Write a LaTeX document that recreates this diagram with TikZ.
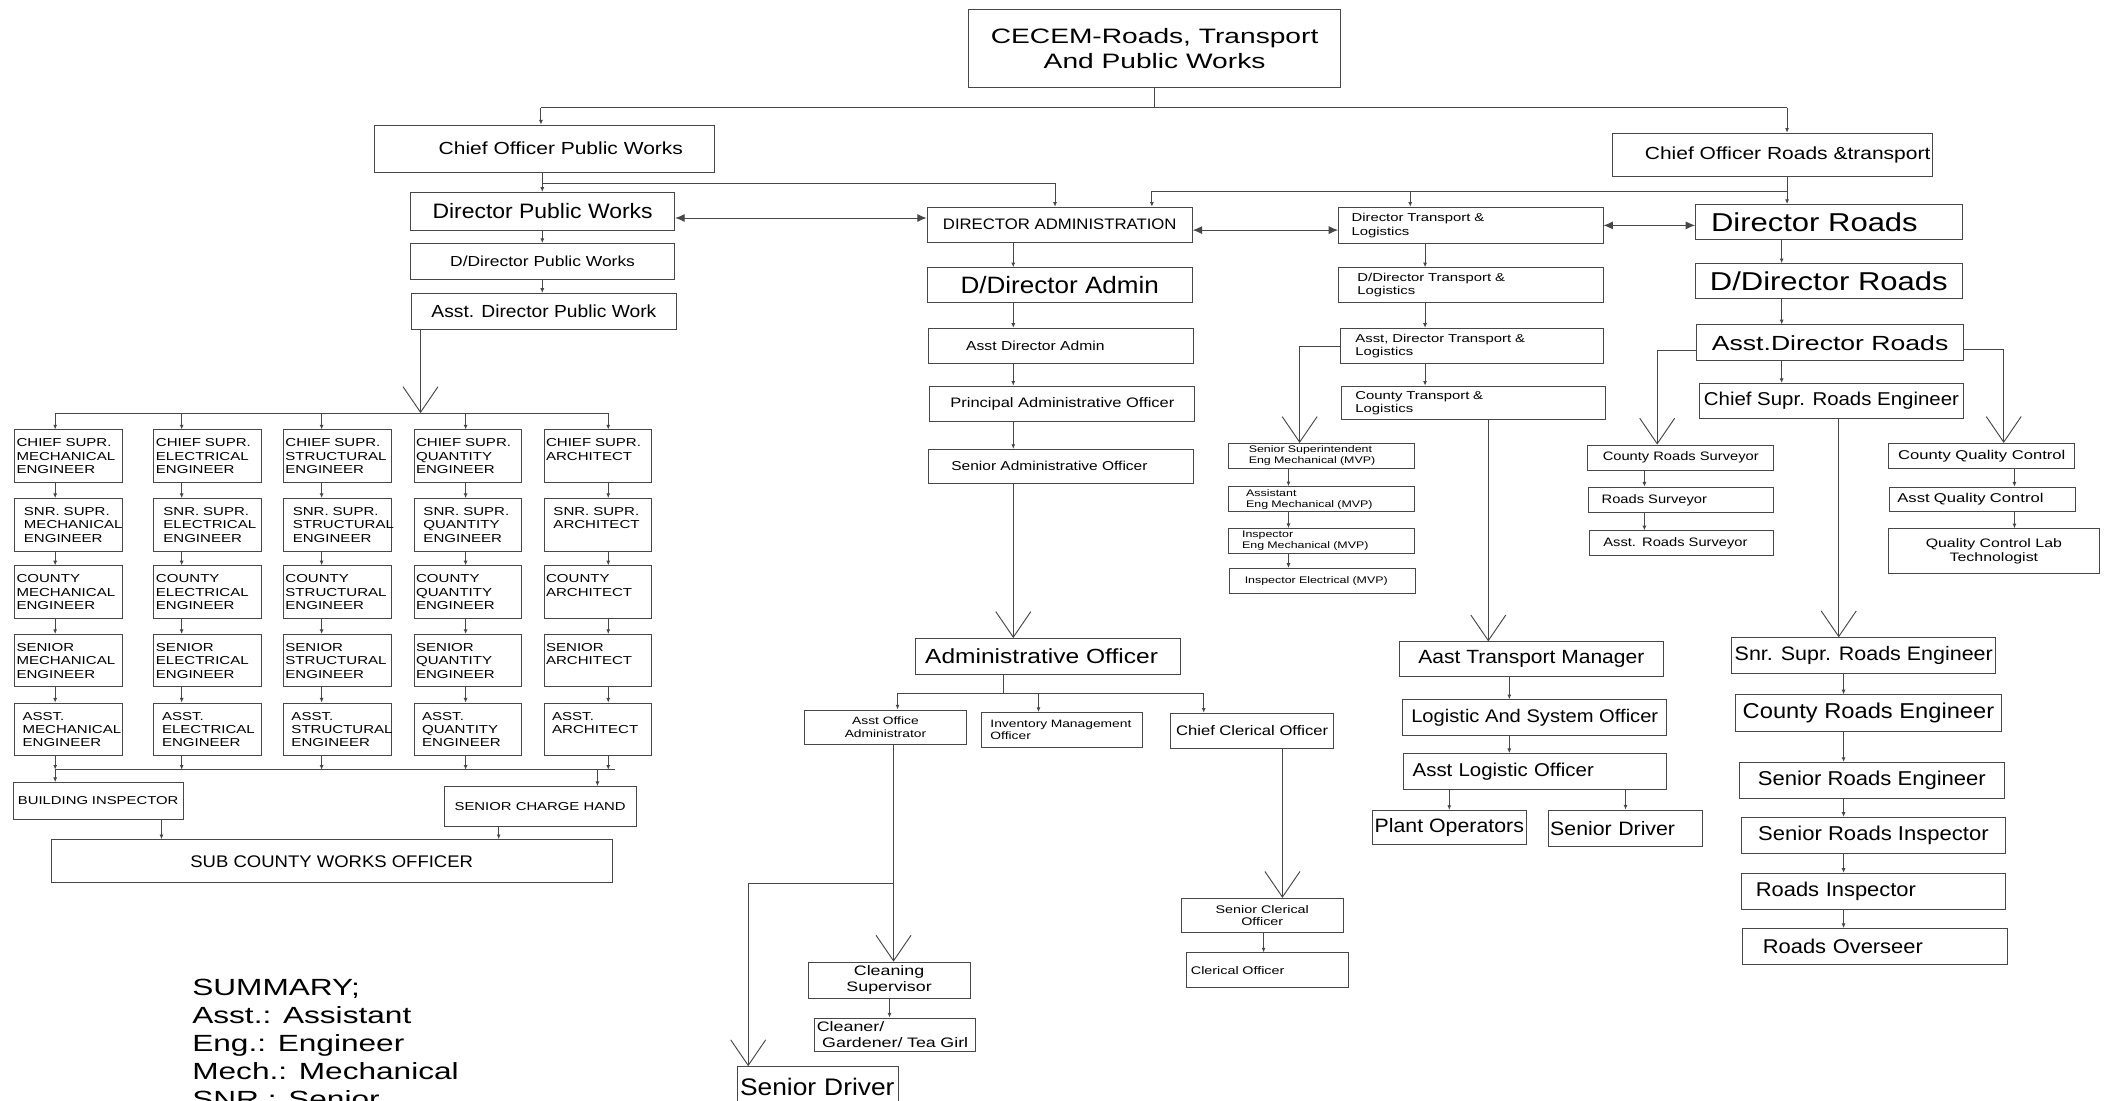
\documentclass[tikz,border=0pt]{standalone}
\usepackage{fontspec}
\setmainfont{Liberation Sans}
\newfontfamily\fontN{Liberation Sans}[FakeStretch=1.1]
\newfontfamily\fontM{Liberation Sans}[FakeStretch=1.2]
\newfontfamily\fontW{Liberation Sans}[FakeStretch=1.3]
\newfontfamily\fontX{Liberation Sans}[FakeStretch=1.35]
\usetikzlibrary{arrows.meta,positioning,calc}
\hyphenpenalty=10000
\exhyphenpenalty=10000

\tikzset{
  post/.style={draw=black!72, line width=0.7pt, fill=white, inner sep=0pt, align=center},
  lpost/.style 2 args={post, align=left, text width=#1, inner xsep=#2},
  wh/.style 2 args={minimum width=#1, minimum height=#2},
  fN/.style 2 args={font=\fontN\fontsize{#1}{#2}\selectfont},
  fM/.style 2 args={font=\fontM\fontsize{#1}{#2}\selectfont},
  fW/.style 2 args={font=\fontW\fontsize{#1}{#2}\selectfont},
  fX/.style 2 args={font=\fontX\fontsize{#1}{#2}\selectfont},
  eng/.style={post, align=left, wh={80pt}{39pt}, fW={8.6}{9.9}},
  link/.style={draw=black!72, line width=0.7pt},
  tip/.style={link, -{Latex[length=3.5pt,width=3pt]}},
  vee/.style={link, -{Straight Barb[length=19pt,width=26pt]}},
  dbl/.style={link, {Latex[length=7pt,width=6pt]}-{Latex[length=7pt,width=6pt]}},
}

\begin{document}
\begin{tikzpicture}[x=1pt,y=-1pt]
\useasboundingbox (0,0) rectangle (1568,818);
\clip (0,0) rectangle (1568,818);
\fill[white] (0,0) rectangle (1568,818);

% top level
\node[post, wh={276pt}{58pt}, fX={15.5}{18}] (cecem) at (858,36) {CECEM-Roads, Transport\\And Public Works};
\node[post, align=right, text width=206pt, inner xsep=23.5pt, wh={253pt}{35pt}, fM={13}{13}] (copw) at (404.5,110.5) {Chief Officer Public Works};
\node[post, align=right, text width=235pt, inner xsep=1.5pt, wh={238pt}{32pt}, fM={13}{13}] (cort) at (1317,115) {Chief Officer Roads \&transport};

% public works
\node[post, wh={196.5pt}{28pt}, fN={15.5}{15.5}] (dpw) at (403.2,157) {Director Public Works};
\node[post, wh={196.5pt}{26.6pt}, fM={10.8}{10.8}] (ddpw) at (403.2,194.3) {D/Director Public Works};
\node[post, wh={196.5pt}{27pt}, fN={13}{13}] (adpw) at (404.2,231.5) {Asst. Director Public Work};

\foreach \row/\rank/\ry/\pad in {1/{CHIEF SUPR.}/339/1.5, 2/{SNR. SUPR.}/390/7, 3/COUNTY/440/1.5, 4/SENIOR/491/1.5, 5/ASST./542/6}
  \foreach \col/\disc/\cx in {1/{MECHANICAL\\ENGINEER}/50.8, 2/{ELECTRICAL\\ENGINEER}/154.4, 3/{STRUCTURAL\\ENGINEER}/250.6, 4/{QUANTITY\\ENGINEER}/347.7, 5/{ARCHITECT\\\mbox{}}/444.3}
  {
    \pgfmathsetmacro{\tw}{80-2*\pad}
    \node[eng, text width=\tw pt, inner xsep=\pad pt] (r\row c\col) at (\cx,\ry) {\rank\\\disc};
  }

\node[lpost={120pt}{3pt}, wh={126pt}{27.2pt}, fW={8.5}{8.5}] (bi) at (73.3,595.2) {BUILDING INSPECTOR};
\node[post, wh={142.8pt}{29.5pt}, fW={8.5}{8.5}] (sch) at (401.4,599.3) {SENIOR CHARGE HAND};
\node[post, wh={417pt}{32pt}, fN={12.5}{12.5}] (scwo) at (246.5,640) {SUB COUNTY WORKS OFFICER};

% administration
\node[post, wh={197pt}{26pt}, fN={11.3}{11.3}] (dira) at (787.5,167) {DIRECTOR ADMINISTRATION};
\node[post, wh={197pt}{26pt}, fN={17.6}{17.6}] (ddira) at (787.5,212) {D/Director Admin};
\node[lpost={141pt}{28pt}, wh={197pt}{26pt}, fM={9.7}{9.7}] (adira) at (788.5,257) {Asst Director Admin};
\node[post, wh={197pt}{26pt}, fM={10.2}{10.2}] (pao) at (789.5,300) {Principal Administrative Officer};
\node[lpost={163pt}{17pt}, wh={197pt}{25pt}, fM={9.6}{9.6}] (sao) at (788.5,346.5) {Senior Administrative Officer};
\node[lpost={183pt}{7pt}, wh={197pt}{27pt}, fM={15.2}{15.2}] (ao) at (779,488) {Administrative Officer};
\node[post, wh={120pt}{26pt}, fW={7.9}{9.4}] (aoa) at (658,540.6) {Asst Office\\Administrator};
\node[lpost={106pt}{7pt}, wh={120pt}{26pt}, fW={7.9}{9.4}] (imo) at (789,542.5) {Inventory Management\\Officer};
\node[post, wh={121pt}{26pt}, fM={10.3}{10.3}] (cco) at (930.5,543) {Chief Clerical Officer};
\node[post, wh={120.5pt}{27pt}, fW={10.2}{11.9}] (cs) at (660.7,728.5) {Cleaning\\Supervisor};
\node[lpost={116pt}{2pt}, wh={120pt}{25pt}, fW={10.2}{11.9}] (cgt) at (665,769) {Cleaner/\\\hspace*{4pt}Gardener/ Tea Girl};
\node[lpost={116pt}{1.7pt}, wh={119.4pt}{30pt}, fN={17.8}{17.8}] (sdl) at (608,807.7) {Senior Driver};
\node[post, wh={120pt}{25.4pt}, fW={8.2}{9.2}] (scl) at (938,680.3) {Senior Clerical\\Officer};
\node[lpost={114pt}{3pt}, wh={120pt}{25.7pt}, fW={8.2}{9.2}] (clo) at (942,721) {Clerical Officer};

% transport
\node[lpost={177.3pt}{9.6pt}, wh={196.5pt}{27pt}, fW={8.5}{9.9}] (dirt) at (1093,167.5) {Director Transport \&\\Logistics};
\node[lpost={168.5pt}{14pt}, wh={196.5pt}{26pt}, fW={8.5}{9.9}] (ddirt) at (1093,212) {D/Director Transport \&\\Logistics};
\node[lpost={173.5pt}{11pt}, wh={195.5pt}{26pt}, fW={8.5}{9.9}] (adirt) at (1094,257) {Asst, Director Transport \&\\Logistics};
\node[lpost={175.5pt}{10.5pt}, wh={196.5pt}{25pt}, fW={8.5}{9.9}] (ctl) at (1095,299.5) {County Transport \&\\Logistics};
\node[lpost={108pt}{15pt}, wh={138pt}{18.5pt}, fW={7.1}{8.2}] (sse) at (982,338.8) {Senior Superintendent\\Eng Mechanical (MVP)};
\node[lpost={112pt}{13pt}, wh={138pt}{18.6pt}, fW={7.1}{8.2}] (aem) at (982,371) {Assistant\\Eng Mechanical (MVP)};
\node[lpost={118pt}{10pt}, wh={138pt}{18.3pt}, fW={7.1}{8.2}] (iem) at (982,402) {Inspector\\Eng Mechanical (MVP)};
\node[lpost={116pt}{11pt}, wh={138pt}{18.6pt}, fW={7.1}{8.2}] (iel) at (983,431.7) {Inspector Electrical (MVP)};
\node[post, wh={196.5pt}{26pt}, fN={14.2}{14.2}] (atm) at (1138,490) {Aast Transport Manager};
\node[post, wh={196pt}{26.6pt}, fN={13.6}{13.6}] (laso) at (1140.5,533.3) {Logistic And System Officer};
\node[lpost={182.4pt}{6.5pt}, wh={195.4pt}{27pt}, fN={13.8}{13.8}] (alo) at (1141,573.5) {Asst Logistic Officer};
\node[post, wh={114pt}{25.5pt}, fN={14.4}{14.4}] (po) at (1077,615) {Plant Operators};
\node[lpost={112pt}{1pt}, wh={114pt}{27pt}, fN={14.4}{14.4}] (sdr) at (1208,615.5) {Senior Driver};

% roads
\node[lpost={175pt}{11.5pt}, wh={198pt}{26pt}, fM={19.2}{19.2}] (dirr) at (1359,165) {Director Roads};
\node[post, wh={198pt}{26pt}, fM={19.2}{19.2}] (ddirr) at (1359,209) {D/Director Roads};
\node[post, wh={198pt}{26.5pt}, fW={15.2}{15.2}] (adirr) at (1360,254.7) {Asst.Director Roads};
\node[post, wh={196pt}{26pt}, fN={13.8}{13.8}] (csre) at (1361,298) {Chief Supr. Roads Engineer};
\node[post, wh={138pt}{18.5pt}, fM={9.1}{9.1}] (crs) at (1249,340) {County Roads Surveyor};
\node[lpost={117.5pt}{10pt}, wh={137.5pt}{19pt}, fM={9.1}{9.1}] (rs) at (1249,371.5) {Roads Surveyor};
\node[lpost={116pt}{10.5pt}, wh={137pt}{18.5pt}, fM={9.1}{9.1}] (ars) at (1249.5,403.7) {Asst. Roads Surveyor};
\node[post, wh={138.3pt}{19pt}, fW={9.5}{9.5}] (cqc) at (1472.7,339) {County Quality Control};
\node[lpost={126pt}{6pt}, wh={138pt}{18pt}, fW={9.5}{9.5}] (aqc) at (1473,371) {Asst Quality Control};
\node[post, wh={156.5pt}{33pt}, fW={9.1}{10.6}] (qcl) at (1481.7,409.5) {Quality Control Lab\\Technologist};
\node[post, wh={196pt}{26.6pt}, fN={14.5}{14.5}] (ssre) at (1385,487.3) {Snr. Supr. Roads Engineer};
\node[post, wh={197pt}{27.3pt}, fN={16}{16}] (cre) at (1388.5,530) {County Roads Engineer};
\node[post, wh={196.7pt}{26.4pt}, fN={14.9}{14.9}] (sre) at (1391,579.8) {Senior Roads Engineer};
\node[post, wh={196.8pt}{26.6pt}, fN={14.9}{14.9}] (sri) at (1392.2,620.7) {Senior Roads Inspector};
\node[lpost={174.8pt}{11pt}, wh={196.8pt}{27pt}, fN={14.8}{14.8}] (ri) at (1392.2,662.5) {Roads Inspector};
\node[lpost={167pt}{15pt}, wh={197pt}{26.5pt}, fN={14.8}{14.8}] (ro) at (1393.5,703.3) {Roads Overseer};

% summary
\foreach \t [count=\i] in {SUMMARY;, Asst.: Assistant, Eng.: Engineer, Mech.: Mechanical, SNR.: Senior}
  \node[anchor=base west, inner sep=0pt, fX={17.4}{17.4}] (sum\i) at (142.7,{740+20.7*(\i-1)}) {\t};

% connectors, top
\coordinate (topw) at (402,80);
\coordinate (tope) at (1328,80);
\draw[link] (cecem.south) -- (cecem.south |- topw);
\draw[link] (topw) -- (tope);
\draw[tip] (topw) -- (topw |- copw.north);
\draw[tip] (tope) -- (tope |- cort.north);

\coordinate (lanepw) at (403,0);
\coordinate (pwj) at (403,136);
\coordinate (adrop) at (784,136);
\draw[tip] (copw.south -| lanepw) -- (dpw.north -| lanepw);
\draw[link] (pwj) -- (adrop);
\draw[tip] (adrop) -- (adrop |- dira.north);
\draw[tip] (dpw.south -| lanepw) -- (ddpw.north -| lanepw);
\draw[tip] (ddpw.south -| lanepw) -- (adpw.north -| lanepw);

\coordinate (rtw) at (856,142);
\coordinate (rtm) at (1048,142);
\coordinate (rte) at (1328,142);
\draw[link] (cort.south -| rte) -- (rte);
\draw[link] (rte) -- (rtw);
\draw[tip] (rtw) -- (rtw |- dira.north);
\draw[tip] (rtm) -- (rtm |- dirt.north);
\draw[tip] (rte) -- (rte |- dirr.north);

\draw[dbl] ([yshift=-5pt]dpw.east) -- ([yshift=-5pt]dpw.east -| dira.west);
\draw[dbl] ([yshift=-4pt]dira.east) -- ([yshift=-4pt]dira.east -| dirt.west);
\draw[dbl] (dirt.east) -- (dirt.east -| dirr.west);

% public works tree
\coordinate (engdrop) at (312.5,307);
\draw[vee] (adpw.south -| engdrop) -- (engdrop);
\foreach \col/\lx in {1/41,2/135,3/239,4/346,5/452} {
  \coordinate (eb\col) at (\lx,307);
  \coordinate (bb\col) at (\lx,572);
  \draw[tip] (eb\col) -- (eb\col |- r1c\col.north);
  \foreach \row/\nxt in {1/2,2/3,3/4,4/5}
    \draw[tip] (r\row c\col.south -| eb\col) -- (r\nxt c\col.north -| eb\col);
  \draw[tip] (r5c\col.south -| bb\col) -- (bb\col);
}
\coordinate (bbe) at (457,572);
\coordinate (bsch) at (444,572);
\draw[link] (eb1) -- (eb5);
\draw[link] (bb1) -- (bbe);
\draw[tip] (bb1) -- (bb1 |- bi.north);
\draw[tip] (bsch) -- (bsch |- sch.north);
\coordinate (lanebi) at (120,0);
\coordinate (lanesch) at (370.6,0);
\draw[tip] (bi.south -| lanebi) -- (scwo.north -| lanebi);
\draw[tip] (sch.south -| lanesch) -- (scwo.north -| lanesch);

% administration tree
\coordinate (laneadm) at (753,0);
\foreach \up/\dn in {dira/ddira, ddira/adira, adira/pao, pao/sao}
  \draw[tip] (\up.south -| laneadm) -- (\dn.north -| laneadm);
\draw[vee] (sao.south -| laneadm) -- (ao.north -| laneadm);
\coordinate (aoj) at (746,515);
\coordinate (aow) at (667,515);
\coordinate (aom) at (771.7,515);
\coordinate (aoe) at (894.5,515);
\draw[link] (ao.south -| aoj) -- (aoj);
\draw[link] (aow) -- (aoe);
\draw[tip] (aow) -- (aow |- aoa.north);
\draw[tip] (aom) -- (aom |- imo.north);
\draw[tip] (aoe) -- (aoe |- cco.north);
\coordinate (aoaj) at (664,656.4);
\coordinate (sdlj) at (556,656.4);
\draw[link] (aoa.south -| aoaj) -- (aoaj);
\draw[vee] (aoaj) -- (aoaj |- cs.north);
\draw[link] (aoaj) -- (sdlj);
\draw[vee] (sdlj) -- (sdlj |- sdl.north);
\coordinate (lanecs) at (661,0);
\draw[tip] (cs.south -| lanecs) -- (cgt.north -| lanecs);
\coordinate (lanecco) at (953,0);
\draw[vee] (cco.south -| lanecco) -- (scl.north -| lanecco);
\coordinate (lanescl) at (939,0);
\draw[tip] (scl.south -| lanescl) -- (clo.north -| lanescl);

% transport tree
\coordinate (lanetr) at (1059,0);
\foreach \up/\dn in {dirt/ddirt, ddirt/adirt, adirt/ctl}
  \draw[tip] (\up.south -| lanetr) -- (\dn.north -| lanetr);
\coordinate (mvpj) at (965.8,257.6);
\draw[vee] (adirt.west |- mvpj) -- (mvpj) -- (mvpj |- sse.north);
\coordinate (lanemvp) at (957.5,0);
\foreach \up/\dn in {sse/aem, aem/iem, iem/iel}
  \draw[tip] (\up.south -| lanemvp) -- (\dn.north -| lanemvp);
\coordinate (lanectl) at (1106,0);
\draw[vee] (ctl.south -| lanectl) -- (atm.north -| lanectl);
\coordinate (lanelog) at (1121.6,0);
\foreach \up/\dn in {atm/laso, laso/alo}
  \draw[tip] (\up.south -| lanelog) -- (\dn.north -| lanelog);
\coordinate (lanepo) at (1077,0);
\coordinate (lanesdr) at (1208,0);
\draw[tip] (alo.south -| lanepo) -- (po.north -| lanepo);
\draw[tip] (alo.south -| lanesdr) -- (sdr.north -| lanesdr);

% roads tree
\coordinate (lanerd) at (1324,0);
\foreach \up/\dn in {dirr/ddirr, ddirr/adirr, adirr/csre}
  \draw[tip] (\up.south -| lanerd) -- (\dn.north -| lanerd);
\coordinate (crsj) at (1231.5,260.6);
\draw[vee] (adirr.west |- crsj) -- (crsj) -- (crsj |- crs.north);
\coordinate (lanecrs) at (1222,0);
\foreach \up/\dn in {crs/rs, rs/ars}
  \draw[tip] (\up.south -| lanecrs) -- (\dn.north -| lanecrs);
\coordinate (cqcj) at (1489,259.6);
\draw[vee] (adirr.east |- cqcj) -- (cqcj) -- (cqcj |- cqc.north);
\coordinate (laneqc) at (1497,0);
\foreach \up/\dn in {cqc/aqc, aqc/qcl}
  \draw[tip] (\up.south -| laneqc) -- (\dn.north -| laneqc);
\coordinate (lanecsre) at (1366.4,0);
\draw[vee] (csre.south -| lanecsre) -- (ssre.north -| lanecsre);
\coordinate (lanerde) at (1370,0);
\foreach \up/\dn in {ssre/cre, cre/sre, sre/sri, sri/ri, ri/ro}
  \draw[tip] (\up.south -| lanerde) -- (\dn.north -| lanerde);
\end{tikzpicture}
\end{document}
